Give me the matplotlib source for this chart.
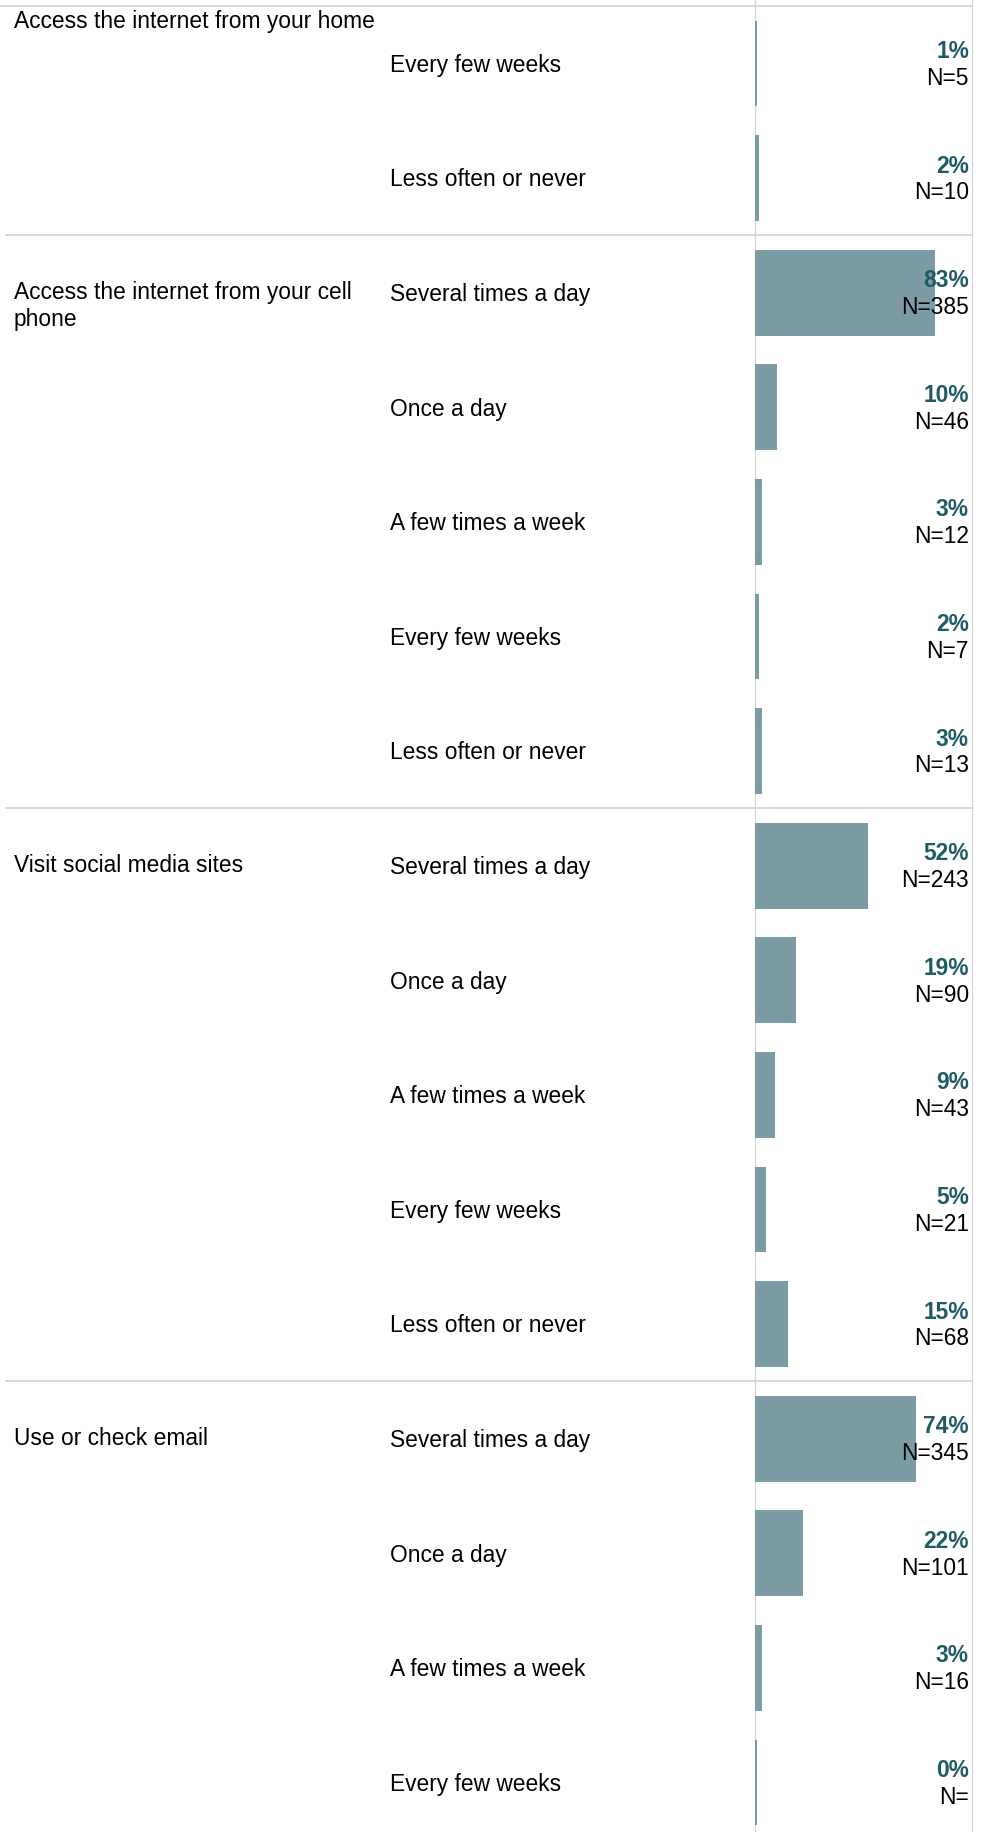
import matplotlib.pyplot as plt
import matplotlib.transforms as mtransforms
from matplotlib.lines import Line2D

plt.rcParams['font.family'] = ['Liberation Sans', 'DejaVu Sans']

# DATA
groups = ["Access the internet from your home",
          "Access the internet from your cell\nphone",
          "Visit social media sites",
          "Use or check email"]
group_sizes = [2, 5, 5, 4]
answers = ["Every few weeks", "Less often or never",
           "Several times a day", "Once a day", "A few times a week", "Every few weeks", "Less often or never",
           "Several times a day", "Once a day", "A few times a week", "Every few weeks", "Less often or never",
           "Several times a day", "Once a day", "A few times a week", "Every few weeks"]
percents = [1, 2,
            83, 10, 3, 2, 3,
            52, 19, 9, 5, 15,
            74, 22, 3, 0]
counts = ["5", "10",
          "385", "46", "12", "7", "13",
          "243", "90", "43", "21", "68",
          "345", "101", "16", ""]

bar_color = "#7b9ca5"
pct_color = "#1f5b66"
grid_color = "#d6d6d6"

W, H = 983, 1832
row_px = 114.6
first_center = 63.5

fig = plt.figure(figsize=(W / 100, H / 100), dpi=100)
ax = fig.add_axes([755 / W, 0, (972 - 755) / W, 1])
ax.set_xlim(0, 100)
top = -first_center / row_px
ax.set_ylim(top + H / row_px, top)

rows = list(range(len(answers)))
# very small shares still get a thin visible bar
widths = [max(p, 0.9) for p in percents]
ax.barh(rows, widths, height=0.75, color=bar_color, zorder=3)

ax.set_xticks([])
ax.set_yticks([])
for s in ["top", "bottom"]:
    ax.spines[s].set_visible(False)
for s in ["left", "right"]:
    ax.spines[s].set_color(grid_color)
    ax.spines[s].set_linewidth(0.9)

tr = mtransforms.blended_transform_factory(fig.transFigure, ax.transData)
fs = 16.4

for i in rows:
    ax.text(390 / W, i + 0.015, answers[i], transform=tr, fontsize=fs, va="center", ha="left", clip_on=False)
    ax.text(969 / W, i - 0.105, f"{percents[i]}%", transform=tr, fontsize=fs, fontweight="bold",
            color=pct_color, va="center", ha="right", clip_on=False, zorder=4)
    ax.text(969 / W, i + 0.13, f"N={counts[i]}", transform=tr, fontsize=fs,
            va="center", ha="right", clip_on=False, zorder=4)

# group labels and separators
start = 0
for g, name in enumerate(groups):
    if g == 0:
        y = top + 23 / row_px
    else:
        y = start + 0.015
    ax.text(14 / W, y - 0.115, name, transform=tr, fontsize=fs, va="top", ha="left",
            linespacing=1.2, clip_on=False)
    if g > 0:
        ax.plot([6 / W, 972 / W], [start - 0.5, start - 0.5], transform=tr, color=grid_color,
                lw=1.3, clip_on=False, zorder=1)
    start += group_sizes[g]

# top border
fig.add_artist(Line2D([0, 972 / W], [1 - 6 / H, 1 - 6 / H], transform=fig.transFigure,
                      color=grid_color, lw=1.3))

fig.savefig("out.png", dpi=100)
